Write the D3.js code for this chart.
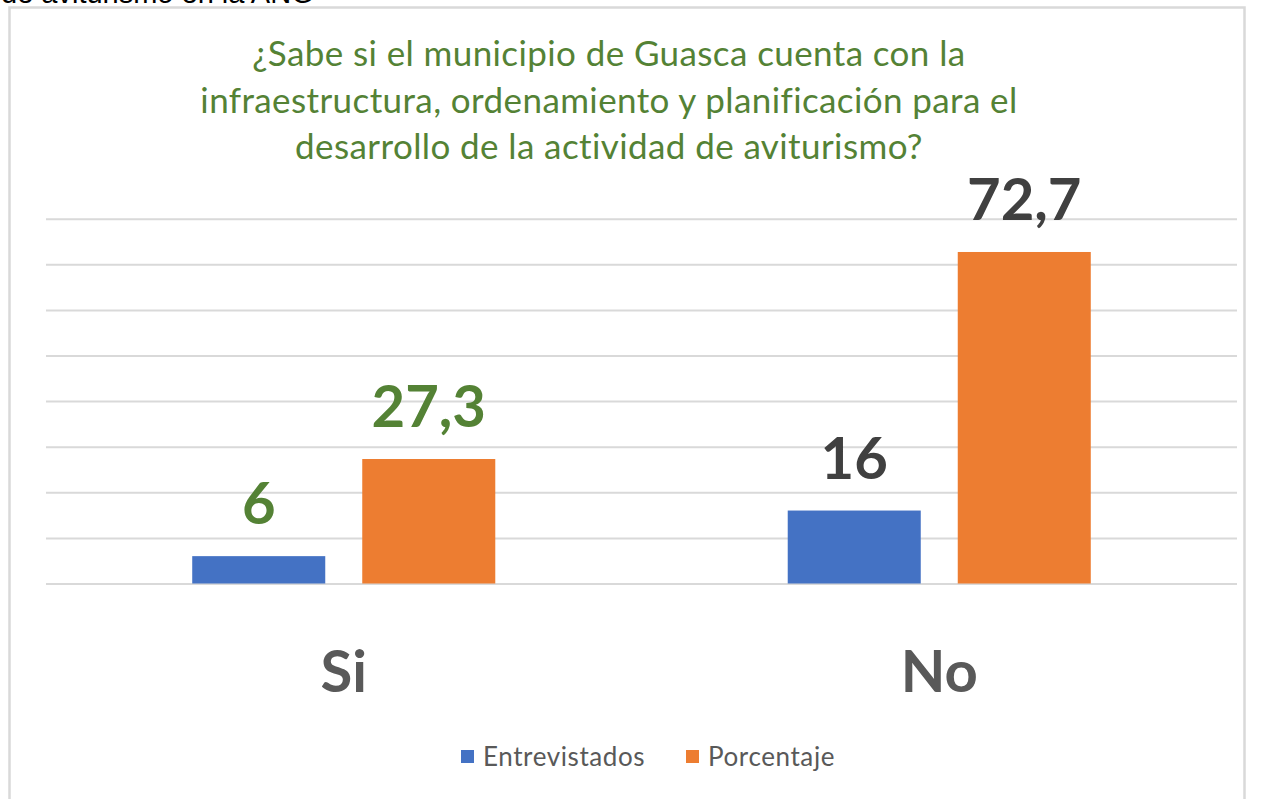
<!DOCTYPE html>
<html lang="es">
<head>
    <meta charset="UTF-8">
    <title>Aviturismo Guasca</title>
    <script src="https://d3js.org/d3.v7.min.js"></script>
    <style>
        body { margin: 0; background: #fff; }
        svg { display: block; }
    </style>
</head>
<body>
    <script>
        // data
        const categories = ["Si", "No"];
        const series = ["Entrevistados", "Porcentaje"];
        const entrevistados = [6, 16];
        const porcentaje = [27.3, 72.7];
        const yTicks = [0, 10, 20, 30, 40, 50, 60, 70, 80];
        const titleLines = [
            "¿Sabe si el municipio de Guasca cuenta con la",
            "infraestructura, ordenamiento y planificación para el",
            "desarrollo de la actividad de aviturismo?"
        ];

        const w = 1273;
        const h = 799;

        const colors = { Entrevistados: "#4472C4", Porcentaje: "#ED7D31" };
        const labelColor = { Si: "#548235", No: "#404040" };
        const font = "Lato, 'Open Sans', sans-serif";

        const rows = categories.map((c, i) => ({
            cat: c,
            values: [
                { key: "Entrevistados", value: entrevistados[i] },
                { key: "Porcentaje", value: porcentaje[i] }
            ]
        }));

        const svg = d3.select("body")
            .append("svg")
            .attr("width", w)
            .attr("height", h);

        // text cut off above the chart frame (as in the original screenshot)
        svg.append("text")
            .attr("x", 1)
            .attr("y", 3)
            .attr("font-family", "Arial, 'Liberation Sans', sans-serif")
            .attr("font-size", 29)
            .attr("fill", "#000")
            .text("de aviturismo en la ANG");

        // chart frame
        svg.append("rect")
            .attr("x", 9.5)
            .attr("y", 7.5)
            .attr("width", 1235)
            .attr("height", 820)
            .attr("fill", "#fff")
            .attr("stroke", "#d9d9d9")
            .attr("stroke-width", 2.5);

        const left = 46, right = 1237;

        const x0 = d3.scaleBand()
            .domain(categories)
            .range([left, right]);

        const x1 = d3.scaleBand()
            .domain(series)
            .range([0, x0.bandwidth()])
            .paddingInner(0.2176)
            .paddingOuter(0.86);

        const y = d3.scaleLinear()
            .domain([0, 80])
            .range([583.5, 218.7]);

        // gridlines
        const yAxis = d3.axisLeft(y)
            .tickValues(yTicks)
            .tickSize(-(right - left))
            .tickFormat("");

        const grid = svg.append("g")
            .attr("transform", "translate(" + left + ",0)")
            .call(yAxis);
        grid.select(".domain").remove();
        grid.selectAll("line")
            .attr("stroke", "#d9d9d9")
            .attr("stroke-width", 2);

        // title
        svg.append("g")
            .selectAll("text")
            .data(titleLines)
            .enter()
            .append("text")
            .attr("x", 609)
            .attr("y", (d, i) => 66 + i * 46.5)
            .attr("text-anchor", "middle")
            .attr("font-family", font)
            .attr("font-size", 35)
            .attr("letter-spacing", 0.4)
            .attr("fill", "#548235")
            .text(d => d);

        const groups = svg.selectAll("g.cat")
            .data(rows)
            .enter()
            .append("g")
            .attr("class", "cat")
            .attr("transform", d => "translate(" + x0(d.cat) + ",0)");

        groups.selectAll("rect")
            .data(d => d.values)
            .enter()
            .append("rect")
            .attr("x", d => x1(d.key))
            .attr("y", d => y(d.value))
            .attr("width", x1.bandwidth())
            .attr("height", d => y(0) - y(d.value))
            .attr("fill", d => colors[d.key]);

        // value labels
        groups.selectAll("text.val")
            .data(d => d.values.map(v => ({ cat: d.cat, key: v.key, value: v.value })))
            .enter()
            .append("text")
            .attr("class", "val")
            .attr("x", d => x1(d.key) + x1.bandwidth() / 2)
            .attr("y", d => y(d.value) - 32)
            .attr("text-anchor", "middle")
            .attr("font-family", font)
            .attr("font-weight", "bold")
            .attr("font-size", 58)
            .attr("fill", d => labelColor[d.cat])
            .text(d => String(d.value).replace(".", ","));

        // category labels
        svg.append("g")
            .selectAll("text")
            .data(categories)
            .enter()
            .append("text")
            .attr("x", d => x0(d) + x0.bandwidth() / 2)
            .attr("y", 692)
            .attr("text-anchor", "middle")
            .attr("font-family", font)
            .attr("font-weight", "bold")
            .attr("font-size", 58)
            .attr("fill", "#595959")
            .text(d => d);

        // legend
        const legendX = [461, 686];
        const legend = svg.append("g")
            .selectAll("g")
            .data(series)
            .enter()
            .append("g")
            .attr("transform", (d, i) => "translate(" + legendX[i] + ",750)");

        legend.append("rect")
            .attr("width", 13)
            .attr("height", 13)
            .attr("fill", d => colors[d]);

        legend.append("text")
            .attr("x", 22)
            .attr("y", 16)
            .attr("font-family", font)
            .attr("font-size", 26)
            .attr("letter-spacing", 0.6)
            .attr("fill", "#595959")
            .text(d => d);
    </script>
</body>
</html>
